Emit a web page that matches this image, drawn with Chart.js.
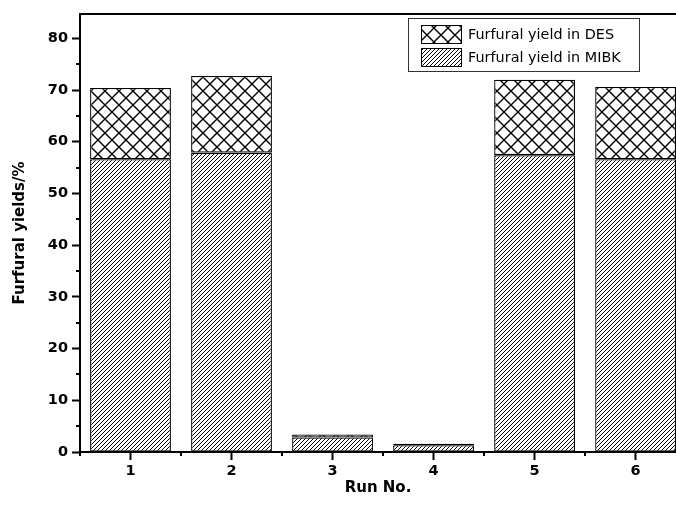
<!DOCTYPE html>
<html>
<head>
<meta charset="utf-8">
<script src="https://cdn.jsdelivr.net/npm/chart.js@4"></script>
<style>
  html, body { margin: 0; padding: 0; background: #fff; overflow: hidden; }
  #wrap { width: 676px; height: 510px; }
</style>
</head>
<body>
<div id="wrap"><canvas id="chart" width="676" height="510"></canvas></div>
<script>
// data
const runNo = [1, 2, 3, 4, 5, 6];
const mibkYield = [56.6, 57.9, 2.8, 1.3, 57.4, 56.6];
const desYield = [13.8, 14.8, 0.6, 0.3, 14.6, 14.0];
const yTicks = [0, 10, 20, 30, 40, 50, 60, 70, 80];
const seriesLabels = ['Furfural yield in MIBK', 'Furfural yield in DES'];

const FONT = 'DejaVu Sans, Verdana, sans-serif';

// hatch patterns
function diagPattern() {
  const c = document.createElement('canvas');
  c.width = 4; c.height = 4;
  const g = c.getContext('2d');
  g.fillStyle = '#fff';
  g.fillRect(0, 0, 4, 4);
  g.strokeStyle = '#000';
  g.lineWidth = 1.0;
  g.beginPath();
  g.moveTo(-1, 5); g.lineTo(5, -1);
  g.moveTo(-1, 1); g.lineTo(1, -1);
  g.moveTo(3, 5); g.lineTo(5, 3);
  g.stroke();
  return g.createPattern(c, 'repeat');
}

function crossPattern() {
  const s = 14;
  const c = document.createElement('canvas');
  c.width = s; c.height = s;
  const g = c.getContext('2d');
  g.fillStyle = '#fff';
  g.fillRect(0, 0, s, s);
  g.strokeStyle = '#000';
  g.lineWidth = 1.4;
  g.beginPath();
  g.moveTo(-1, -1); g.lineTo(s + 1, s + 1);
  g.moveTo(-1, s + 1); g.lineTo(s + 1, -1);
  g.stroke();
  return g.createPattern(c, 'repeat');
}

const ctx = document.getElementById('chart').getContext('2d');
const mibkFill = diagPattern();
const desFill = crossPattern();

// minor ticks, top frame line and the boxed legend
const decorPlugin = {
  id: 'decor',
  afterDraw(chart) {
    const c = chart.ctx;
    const a = chart.chartArea;
    const xs = chart.scales.x, ys = chart.scales.y;
    c.save();
    c.strokeStyle = '#000';
    c.lineWidth = 2;
    // top frame
    c.beginPath();
    c.moveTo(a.left - 1, a.top);
    c.lineTo(a.right + 2, a.top);
    c.stroke();
    // minor ticks
    c.beginPath();
    for (let v = 5; v < ys.max; v += 10) {
      const py = Math.round(ys.getPixelForValue(v));
      c.moveTo(a.left, py); c.lineTo(a.left - 4, py);
    }
    for (let v = 0.5; v <= xs.max; v += 1) {
      const px = Math.round(xs.getPixelForValue(v));
      c.moveTo(px, a.bottom); c.lineTo(px, a.bottom + 4);
    }
    c.stroke();

    // legend
    c.lineWidth = 1;
    c.strokeStyle = '#333';
    c.strokeRect(408.5, 18.5, 231, 53);
    const items = [
      { label: seriesLabels[1], fill: desFill, y: 25 },
      { label: seriesLabels[0], fill: mibkFill, y: 48 }
    ];
    c.font = '14.4px ' + FONT;
    c.textBaseline = 'middle';
    items.forEach(it => {
      c.fillStyle = it.fill;
      c.fillRect(421, it.y, 40, 18);
      c.strokeStyle = '#000';
      c.strokeRect(421.5, it.y + 0.5, 40, 18);
      c.fillStyle = '#000';
      c.fillText(it.label, 468, it.y + 10);
    });
    c.restore();
  }
};

new Chart(ctx, {
  type: 'bar',
  data: {
    datasets: [
      {
        label: seriesLabels[0],
        data: runNo.map((r, i) => ({ x: r, y: mibkYield[i] })),
        backgroundColor: mibkFill,
        borderColor: '#000',
        borderWidth: 1.3,
        borderSkipped: false
      },
      {
        label: seriesLabels[1],
        data: runNo.map((r, i) => ({ x: r, y: desYield[i] })),
        backgroundColor: desFill,
        borderColor: '#000',
        borderWidth: 1.3,
        borderSkipped: false
      }
    ]
  },
  options: {
    responsive: false,
    animation: false,
    events: [],
    layout: { padding: { top: 14, right: 0, left: 0, bottom: 0 } },
    datasets: { bar: { barPercentage: 0.8, categoryPercentage: 1.0 } },
    scales: {
      x: {
        type: 'linear',
        stacked: true,
        offset: false,
        min: 0.5,
        max: 6.4,
        afterBuildTicks: s => { s.ticks = runNo.map(v => ({ value: v })); },
        afterFit: s => { s.height = 58; },
        grid: { display: true, offset: false, drawOnChartArea: false, tickLength: 8, tickWidth: 2, tickColor: '#000' },
        border: { display: true, color: '#000', width: 2 },
        ticks: {
          padding: 3,
          color: '#000',
          font: { family: FONT, size: 14.5, weight: 'bold' },
          maxRotation: 0,
          callback: v => String(v)
        },
        title: {
          display: true,
          text: 'Run No.',
          color: '#000',
          font: { family: FONT, size: 15, weight: 'bold' },
          padding: { top: 0, bottom: 13 }
        }
      },
      y: {
        stacked: true,
        min: 0,
        max: 84.7,
        afterBuildTicks: s => { s.ticks = yTicks.map(v => ({ value: v })); },
        afterFit: s => { s.width = 80; },
        grid: { display: true, drawOnChartArea: false, tickLength: 8, tickWidth: 2, tickColor: '#000' },
        border: { display: true, color: '#000', width: 2 },
        ticks: {
          padding: 4,
          color: '#000',
          font: { family: FONT, size: 14.5, weight: 'bold' }
        },
        title: {
          display: true,
          text: 'Furfural yields/%',
          color: '#000',
          font: { family: FONT, size: 15, weight: 'bold' },
          padding: { top: 11, bottom: 0 }
        }
      }
    },
    plugins: {
      legend: { display: false },
      tooltip: { enabled: false }
    }
  },
  plugins: [decorPlugin]
});
</script>
</body>
</html>
